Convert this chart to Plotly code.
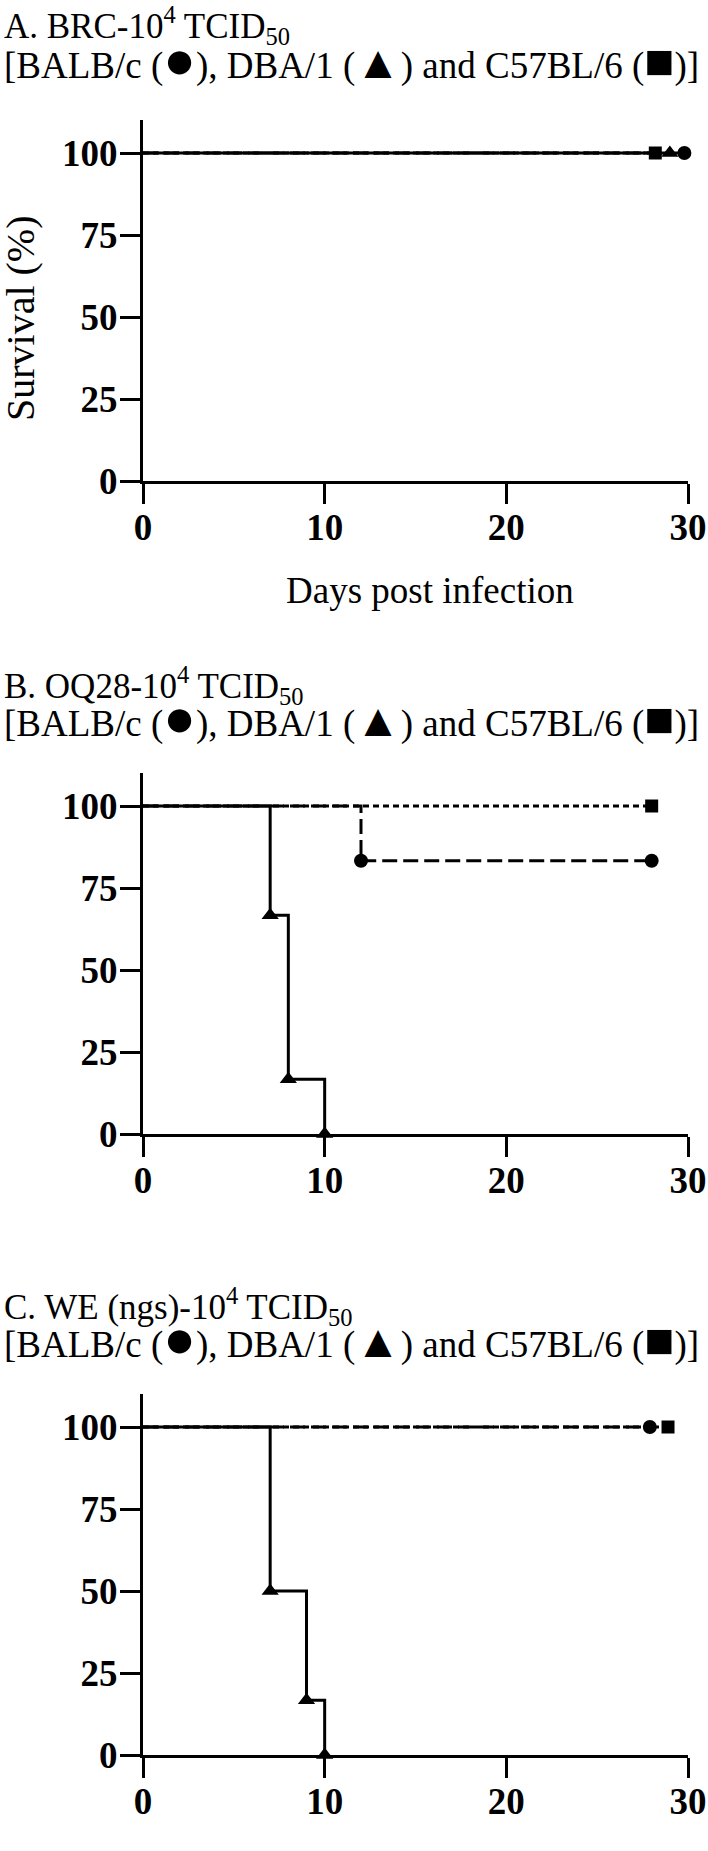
import plotly.graph_objects as go

W, H = 708, 1851

# ---------------- data ----------------
day_ticks = [0, 10, 20, 30]
surv_ticks = [0, 25, 50, 75, 100]

panel_titles = [
    "A. BRC-10<sup>4</sup> TCID<sub>50</sub>",
    "B. OQ28-10<sup>4</sup> TCID<sub>50</sub>",
    "C. WE (ngs)-10<sup>4</sup> TCID<sub>50</sub>",
]
legend_line = ("[BALB/c (<span style=\"font-size:54px\">\u25CF</span>), "
               "DBA/1 (<span style=\"font-size:46px\">\u25B2</span>) and "
               "C57BL/6 (<span style=\"font-size:50px\">\u25A0</span>)]")

# Panel A (BRC)
a_balb_x = [0, 29.8]
a_balb_y = [100, 100]
a_dba_x = [0, 29.0]
a_dba_y = [100, 100]
a_c57_x = [0, 28.2]
a_c57_y = [100, 100]

# Panel B (OQ28)
b_balb_x = [0, 12, 28]
b_balb_y = [100, 83.3, 83.3]
b_dba_x = [0, 7, 8, 10]
b_dba_y = [100, 66.7, 16.7, 0]
b_c57_x = [0, 28]
b_c57_y = [100, 100]

# Panel C (WE ngs)
c_balb_x = [0, 27.9]
c_balb_y = [100, 100]
c_dba_x = [0, 7, 9, 10]
c_dba_y = [100, 50, 16.7, 0]
c_c57_x = [0, 28.9]
c_c57_y = [100, 100]

panels = [
    dict(balb=(a_balb_x, a_balb_y), dba=(a_dba_x, a_dba_y), c57=(a_c57_x, a_c57_y)),
    dict(balb=(b_balb_x, b_balb_y), dba=(b_dba_x, b_dba_y), c57=(b_c57_x, b_c57_y)),
    dict(balb=(c_balb_x, c_balb_y), dba=(c_dba_x, c_dba_y), c57=(c_c57_x, c_c57_y)),
]

# ---------------- layout geometry (pixels) ----------------
y100_px = [153, 806, 1427]
title1_px = [26, 685, 1306]
title2_px = [60, 718, 1339]
unit = 3.28  # px per % survival
YMAX = 110
XL, XR = 143, 688

FONT = "Liberation Serif"

styles = {
    "c57": dict(dash="6px,4px", symbol="square", size=13),
    "balb": dict(dash="15px,6px", symbol="circle", size=14),
    "dba": dict(dash="solid", symbol="triangle-up", size=15),
}

fig = go.Figure()
layout = dict(
    template="none",
    width=W, height=H, margin=dict(l=0, r=0, t=0, b=0, autoexpand=False),
    paper_bgcolor="white", plot_bgcolor="white", showlegend=False,
)
annotations = []

def py(p):
    return 1 - p / H

for i, pdata in enumerate(panels):
    n = "" if i == 0 else str(i + 1)
    y100 = y100_px[i]
    y0 = y100 + 100 * unit
    ytop = y100 - (YMAX - 100) * unit
    xa = "x" + n
    ya = "y" + n
    for key in ["c57", "balb", "dba"]:
        xs, ys = pdata[key]
        st = styles[key]
        fig.add_trace(go.Scatter(
            x=xs, y=ys, mode="lines", line_shape="hv",
            line=dict(color="black", width=3, dash=st["dash"]),
            xaxis=xa, yaxis=ya, cliponaxis=False, hoverinfo="skip"))
        fig.add_trace(go.Scatter(
            x=xs[1:], y=ys[1:], mode="markers",
            marker=dict(symbol=st["symbol"], size=st["size"], color="black",
                        line=dict(width=0)),
            xaxis=xa, yaxis=ya, cliponaxis=False, hoverinfo="skip"))
    axis_common = dict(
        showline=True, linecolor="black", linewidth=3, automargin=False,
        ticks="outside", ticklen=20, tickwidth=3, tickcolor="black",
        showgrid=False, zeroline=False,
        tickfont=dict(family=FONT, size=37, color="black", weight="bold"),
    )
    layout["xaxis" + n] = dict(
        axis_common, domain=[XL / W, XR / W], range=[0, 30],
        tickvals=day_ticks, ticktext=[str(v) for v in day_ticks],
        anchor=ya, ticklabelstandoff=-8)
    layout["yaxis" + n] = dict(
        axis_common, domain=[py(y0), py(ytop)], range=[0, YMAX],
        tickvals=surv_ticks, ticktext=[str(v) for v in surv_ticks],
        anchor=xa, ticklabelstandoff=-5)
    # titles
    annotations.append(dict(
        text=panel_titles[i], x=2 / W, y=py(title1_px[i]), xref="paper", yref="paper",
        xanchor="left", yanchor="middle", showarrow=False,
        font=dict(family=FONT, size=35, color="black")))
    annotations.append(dict(
        text=legend_line, x=2 / W, y=py(title2_px[i]), xref="paper", yref="paper",
        xanchor="left", yanchor="middle", showarrow=False,
        font=dict(family=FONT, size=37, color="black")))

# axis titles for panel A
annotations.append(dict(
    text="Survival (%)", x=21 / W, y=py(318), xref="paper", yref="paper",
    xanchor="center", yanchor="middle", textangle=-90, showarrow=False,
    font=dict(family=FONT, size=40, color="black")))
annotations.append(dict(
    text="Days post infection", x=430 / W, y=py(590), xref="paper", yref="paper",
    xanchor="center", yanchor="middle", showarrow=False,
    font=dict(family=FONT, size=37, color="black")))

layout["annotations"] = annotations
fig.update_layout(**layout)
fig.write_html("out.html", config={"displayModeBar": False},
               post_script="document.body.style.margin='0px';")
